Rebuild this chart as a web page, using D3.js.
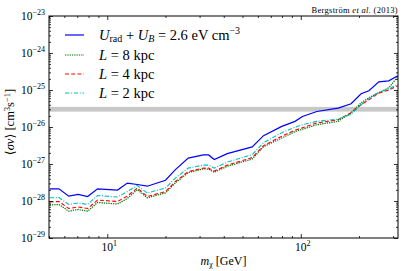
<!DOCTYPE html>
<html>
<head>
<meta charset="utf-8">
<script src="https://cdn.jsdelivr.net/npm/d3@7"></script>
<style>
  body { margin: 0; background: #fff; }
  text { font-family: "Liberation Serif", "DejaVu Serif", serif; fill: #000; }
</style>
</head>
<body>
<svg id="chart" width="407" height="271"></svg>
<script>
// dark matter mass [GeV]
var masses = [5.04, 5.63, 6.32, 7.07, 7.92, 8.91, 11.3, 12.7, 14.3, 16.1, 20.0, 22.5, 26.2, 31.4, 33.4,
    35.7, 41.7, 56.1, 64.2, 79.8, 93.4, 102, 121, 156, 182, 205, 225, 253, 285, 317];

// <sigma v> limits [cm^3 s^-1]
var sigmaUrad = [2.13e-28, 2.13e-28, 1.35e-28, 1.50e-28, 1.32e-28, 2.13e-28, 1.98e-28, 3.05e-28, 2.79e-28, 2.51e-28,
    3.64e-28, 7.06e-28, 1.44e-27, 1.76e-27, 1.76e-27, 1.32e-27, 1.91e-27, 2.89e-27, 5.82e-27, 1.04e-26,
    1.42e-26, 1.93e-26, 2.63e-26, 3.25e-26, 4.25e-26, 7.91e-26, 9.51e-26, 1.66e-25, 1.77e-25, 2.42e-25];
var sigmaL8 = [7.80e-29, 8.05e-29, 5.31e-29, 5.90e-29, 5.31e-29, 9.12e-29, 8.30e-29, 1.17e-28, 2.04e-28, 1.22e-28,
    1.66e-28, 3.10e-28, 5.86e-28, 7.38e-28, 7.30e-28, 5.97e-28, 8.67e-28, 1.36e-27, 2.94e-27, 5.06e-27,
    7.46e-27, 8.73e-27, 1.15e-26, 1.42e-26, 2.43e-26, 4.52e-26, 6.17e-26, 8.41e-26, 1.15e-25, 2.27e-25];
var sigmaL4 = [9.40e-29, 9.70e-29, 6.28e-29, 6.89e-29, 6.28e-29, 1.06e-28, 9.70e-29, 1.36e-28, 2.24e-28, 1.32e-28,
    1.80e-28, 3.36e-28, 6.24e-28, 7.74e-28, 7.74e-28, 6.44e-28, 9.33e-28, 1.49e-27, 3.13e-27, 5.65e-27,
    8.20e-27, 9.57e-27, 1.28e-26, 1.57e-26, 2.43e-26, 3.99e-26, 5.44e-26, 8.24e-26, 1.00e-25, 1.30e-25];
var sigmaL2 = [1.22e-28, 1.24e-28, 8.05e-29, 8.83e-29, 8.05e-29, 1.41e-28, 1.28e-28, 1.80e-28, 2.62e-28, 1.64e-28,
    2.24e-28, 4.17e-28, 7.74e-28, 9.33e-28, 9.33e-28, 7.74e-28, 1.12e-27, 1.79e-27, 3.78e-27, 7.02e-27,
    9.89e-27, 1.15e-26, 1.42e-26, 1.64e-26, 2.21e-26, 3.99e-26, 5.97e-26, 8.77e-26, 1.06e-25, 1.43e-25];

// thermal relic band
var thermalBand = [2.6e-26, 3.5e-26];

var xMajorTicks = [10, 100];
var xTickExp = ["1", "2"];
var yMajorTicks = [1e-29, 1e-28, 1e-27, 1e-26, 1e-25, 1e-24, 1e-23];
var yTickExp = ["\u221229", "\u221228", "\u221227", "\u221226", "\u221225", "\u221224", "\u221223"];

var margin = { top: 16, right: 9, bottom: 33, left: 49 };
var width = 407 - margin.left - margin.right;
var height = 271 - margin.top - margin.bottom;

var svg = d3.select("#chart");
var g = svg.append("g").attr("transform", "translate(" + margin.left + "," + margin.top + ")");

var x = d3.scaleLog().domain([5, 318]).range([0, width]);
var y = d3.scaleLog().domain([1e-29, 1e-23]).range([height, 0]);

// minor ticks
var xMinor = [];
[1, 10, 100].forEach(function (p) {
    for (var k = 2; k <= 9; k++) {
        var v = k * p;
        if (v >= 5 && v <= 318 && xMajorTicks.indexOf(v) < 0) xMinor.push(v);
    }
});
var yMinor = [];
for (var e = -29; e < -23; e++) {
    for (var k = 2; k <= 9; k++) yMinor.push(k * Math.pow(10, e));
}

// band
g.append("rect")
    .attr("x", 0)
    .attr("width", width)
    .attr("y", y(thermalBand[1]))
    .attr("height", y(thermalBand[0]) - y(thermalBand[1]))
    .attr("fill", "#c8c8c8");

// curves
var series = [
    { values: sigmaUrad, color: "#0000ff", dash: null, w: 1.2 },
    { values: sigmaL8, color: "#007400", dash: "1.3,1", w: 1.2 },
    { values: sigmaL4, color: "#ff0000", dash: "4,2.2", w: 1.1 },
    { values: sigmaL2, color: "#00bfbf", dash: "4.5,1.6,1,1.6", w: 1.1 }
];
var line = d3.line()
    .x(function (d) { return x(d[0]); })
    .y(function (d) { return y(d[1]); });

series.forEach(function (s) {
    g.append("path")
        .datum(masses.map(function (m, i) { return [m, s.values[i]]; }))
        .attr("fill", "none")
        .attr("stroke", s.color)
        .attr("stroke-width", s.w)
        .attr("stroke-dasharray", s.dash)
        .attr("d", line);
});

// axes, ticks pointing inward
function addAxis(axis, tr) {
    var a = g.append("g").attr("transform", tr).call(axis);
    a.select(".domain").remove();
    a.selectAll("line").attr("stroke", "#000").attr("stroke-width", 0.8);
    a.selectAll("text").remove();
}
addAxis(d3.axisBottom(x).tickValues(xMajorTicks).tickSize(-4).tickFormat(""), "translate(0," + height + ")");
addAxis(d3.axisBottom(x).tickValues(xMinor).tickSize(-2).tickFormat(""), "translate(0," + height + ")");
addAxis(d3.axisTop(x).tickValues(xMajorTicks).tickSize(-4).tickFormat(""), "translate(0,0)");
addAxis(d3.axisTop(x).tickValues(xMinor).tickSize(-2).tickFormat(""), "translate(0,0)");
addAxis(d3.axisLeft(y).tickValues(yMajorTicks).tickSize(-4).tickFormat(""), "translate(0,0)");
addAxis(d3.axisLeft(y).tickValues(yMinor).tickSize(-2).tickFormat(""), "translate(0,0)");
addAxis(d3.axisRight(y).tickValues(yMajorTicks).tickSize(-4).tickFormat(""), "translate(" + width + ",0)");
addAxis(d3.axisRight(y).tickValues(yMinor).tickSize(-2).tickFormat(""), "translate(" + width + ",0)");

g.append("rect")
    .attr("width", width)
    .attr("height", height)
    .attr("fill", "none")
    .attr("stroke", "#000")
    .attr("stroke-width", 1);

// tick labels
yMajorTicks.forEach(function (v, i) {
    var t = g.append("text")
        .attr("x", -4)
        .attr("y", y(v) + 4)
        .attr("text-anchor", "end")
        .style("font-size", "11.5px");
    t.append("tspan").text("10");
    t.append("tspan").attr("dy", -5).style("font-size", "8px").text(yTickExp[i]);
});
xMajorTicks.forEach(function (v, i) {
    var t = g.append("text")
        .attr("x", x(v) + 2)
        .attr("y", height + 13)
        .attr("text-anchor", "middle")
        .style("font-size", "11.5px");
    t.append("tspan").text("10");
    t.append("tspan").attr("dy", -5).style("font-size", "8px").text(xTickExp[i]);
});

// axis titles
var xt = svg.append("text")
    .attr("x", margin.left + width / 2)
    .attr("y", 265)
    .attr("text-anchor", "middle")
    .style("font-size", "12px");
xt.append("tspan").style("font-style", "italic").text("m");
xt.append("tspan").attr("dy", 2).style("font-size", "8px").text("\u03c7");
xt.append("tspan").attr("dy", -2).text(" [GeV]");

var yt = svg.append("text")
    .attr("transform", "translate(14,122) rotate(-90)")
    .attr("text-anchor", "middle")
    .style("font-size", "12.5px");
yt.append("tspan").text("\u27e8");
yt.append("tspan").style("font-style", "italic").text("\u03c3v");
yt.append("tspan").text("\u27e9 [cm");
yt.append("tspan").attr("dy", -4).style("font-size", "8.5px").text("3");
yt.append("tspan").attr("dy", 4).text("s");
yt.append("tspan").attr("dy", -4).style("font-size", "8.5px").text("\u22121");
yt.append("tspan").attr("dy", 4).text("]");

// reference note
var note = svg.append("text")
    .attr("x", margin.left + width)
    .attr("y", 13)
    .attr("text-anchor", "end")
    .style("font-size", "8.5px")
    .style("letter-spacing", "0.3px");
note.append("tspan").text("Bergstr\u00f6m ");
note.append("tspan").style("font-style", "italic").text("et al.");
note.append("tspan").text(" (2013)");

// legend
var legendRows = [35, 55, 74, 93];
var legend = svg.append("g");
series.forEach(function (s, i) {
    legend.append("line")
        .attr("x1", 65).attr("x2", 84)
        .attr("y1", legendRows[i]).attr("y2", legendRows[i])
        .attr("stroke", s.color)
        .attr("stroke-width", s.w)
        .attr("stroke-dasharray", s.dash);
});
var l0 = legend.append("text").attr("x", 99).attr("y", legendRows[0] + 4.5).style("font-size", "14.5px");
l0.append("tspan").style("font-style", "italic").text("U");
l0.append("tspan").attr("dy", 2.5).style("font-size", "10px").text("rad");
l0.append("tspan").attr("dy", -2.5).text(" + ");
l0.append("tspan").style("font-style", "italic").text("U");
l0.append("tspan").attr("dy", 2.5).style("font-size", "10px").style("font-style", "italic").text("B");
l0.append("tspan").attr("dy", -2.5).text(" = 2.6 eV cm");
l0.append("tspan").attr("dy", -5.5).style("font-size", "10px").text("\u22123");
["8", "4", "2"].forEach(function (d, i) {
    var t = legend.append("text").attr("x", 99).attr("y", legendRows[i + 1] + 4.5).style("font-size", "14.5px");
    t.append("tspan").style("font-style", "italic").text("L");
    t.append("tspan").text(" = " + d + " kpc");
});
</script>
</body>
</html>
